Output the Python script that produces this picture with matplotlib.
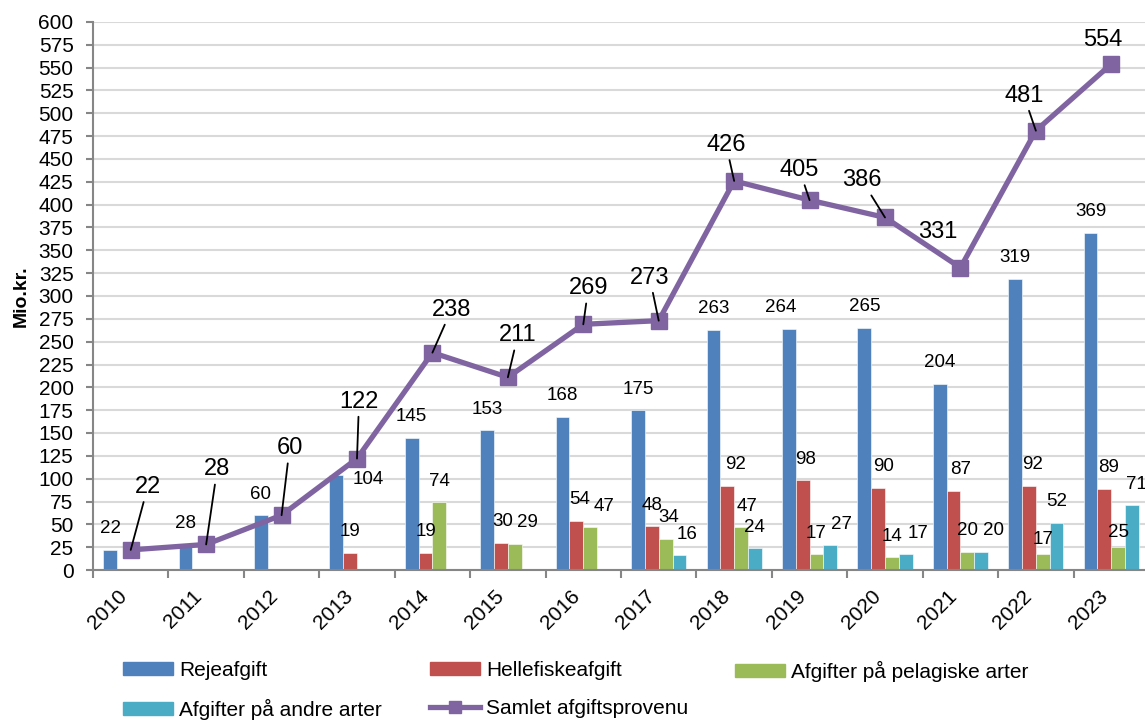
import numpy as np
import matplotlib.pyplot as plt
from matplotlib.lines import Line2D
from matplotlib.patches import Patch

plt.rcParams['font.family'] = ['Liberation Sans', 'DejaVu Sans']

# Data (Mio. kr.)
years = [str(y) for y in range(2010, 2024)]
reje = [22, 28, 60, 104, 145, 153, 168, 175, 263, 264, 265, 204, 319, 369]
helle = [np.nan, np.nan, np.nan, 19, 19, 30, 54, 48, 92, 98, 90, 87, 92, 89]
pelagisk = [np.nan, np.nan, np.nan, np.nan, 74, 29, 47, 34, 47, 17, 14, 20, 17, 25]
andre = [np.nan] * 7 + [16, 24, 27, 17, 20, 52, 71]
samlet = [22, 28, 60, 122, 238, 211, 269, 273, 426, 405, 386, 331, 481, 554]

series_names = ["Rejeafgift", "Hellefiskeafgift", "Afgifter på pelagiske arter",
                "Afgifter på andre arter"]
line_name = "Samlet afgiftsprovenu"
colors = ["#4F81BD", "#C0504D", "#9BBB59", "#4BACC6"]
line_color = "#8064A2"

PX = 72 / 100  # pixels -> points

# manual nudges of bar labels (pixels, dy positive = down)
bar_nudge = {
    (0, 3): (32, 25), (0, 9): (-8, 0),
    (1, 5): (2, 0), (1, 6): (3, 0), (1, 8): (8, 0), (1, 9): (3, 0),
    (1, 10): (5, 0), (1, 11): (7, 0), (1, 12): (4, 0), (1, 13): (4, 0),
    (2, 5): (13, 0), (2, 6): (14, 0), (2, 7): (3, 0), (2, 8): (6, 0),
    (2, 12): (0, 6), (2, 13): (0, 6),
    (3, 7): (8, 0), (3, 9): (11, 0), (3, 10): (12, 0), (3, 11): (12, 0),
    (3, 13): (4, 0),
}

# line label positions relative to the point (pixels), with leader line or not
line_lbl = [(17, -63, True), (11, -75, True), (8, -67, True), (2, -57, True),
            (19, -43, True), (10, -42, True), (5, -36, True), (-9, -43, True),
            (-8, -36, True), (-10, -30, True), (-23, -37, True), (-23, -36, False),
            (-12, -35, True), (-8, -24, False)]

fig = plt.figure(figsize=(11.45, 7.2), dpi=100)
ax = fig.add_axes([93 / 1145, 150 / 720, (1149 - 93) / 1145, 548 / 720])

x = np.arange(len(years))
w = 0.183
all_series = [reje, helle, pelagisk, andre]

for k, (vals, col) in enumerate(zip(all_series, colors)):
    vals = np.array(vals, dtype=float)
    pos = x + (k - 1.5) * w
    ax.bar(pos, np.nan_to_num(vals), w, color=col, edgecolor='white',
           linewidth=0.4, zorder=2)
    for i, v in enumerate(vals):
        if np.isnan(v):
            continue
        dx, dy = bar_nudge.get((k, i), (0, 0))
        ax.annotate(f"{v:.0f}", xy=(pos[i], v), xytext=(dx * PX, (21 - dy) * PX),
                    textcoords='offset points', ha='center', va='center',
                    fontsize=13.5, zorder=4)

ax.plot(x, samlet, color=line_color, lw=3.8, marker='s', ms=11, zorder=5)
for i, v in enumerate(samlet):
    dx, dy, leader = line_lbl[i]
    arrow = dict(arrowstyle='-', color='black', lw=1.3, shrinkA=1, shrinkB=0) if leader else None
    ax.annotate(str(v), xy=(i, v), xytext=(dx * PX, -dy * PX),
                textcoords='offset points', ha='center', va='center',
                fontsize=17, arrowprops=arrow, zorder=6)

# axes styling
ax.set_xlim(-0.5, 13.5)
ax.set_ylim(0, 600)
ax.set_yticks(range(0, 601, 25))
ax.yaxis.grid(True, color='#d9d9d9', lw=1.5)
ax.set_axisbelow(True)
for s in ['top', 'right']:
    ax.spines[s].set_visible(False)
for s in ['left', 'bottom']:
    ax.spines[s].set_color('#868686')
    ax.spines[s].set_linewidth(1.5)

ax.set_xticks(np.arange(-0.5, 14, 1))
ax.set_xticklabels([])
ax.tick_params(axis='x', which='major', length=6, width=1.5, color='#868686')
ax.set_xticks(x, minor=True)
ax.set_xticklabels(years, minor=True, rotation=45, ha='right', va='top', fontsize=15)
ax.tick_params(axis='x', which='minor', length=0, pad=12)
ax.tick_params(axis='y', length=5, width=1.5, color='#868686', labelsize=15, pad=9)

ax.set_ylabel("Mio.kr.", fontsize=14, fontweight='bold', labelpad=6)

# legend: three columns placed at fixed positions
handles = [Patch(color=c) for c in colors]
line_handle = Line2D([], [], color=line_color, lw=3.8, marker='s', ms=9)
cols = [
    ([handles[0], handles[3]], [series_names[0], series_names[3]], 123),
    ([handles[1], line_handle], [series_names[1], line_name], 430),
    ([handles[2]], [series_names[2]], 735),
]
for hs, ls, px in cols:
    leg = fig.legend(hs, ls, loc='upper left', bbox_to_anchor=(px / 1145, 1 - 661 / 720),
                     frameon=False, fontsize=15, handlelength=2.4, handleheight=0.55,
                     handletextpad=0.3, labelspacing=0.9, borderpad=0, borderaxespad=0)

fig.savefig("out.png", dpi=100)
